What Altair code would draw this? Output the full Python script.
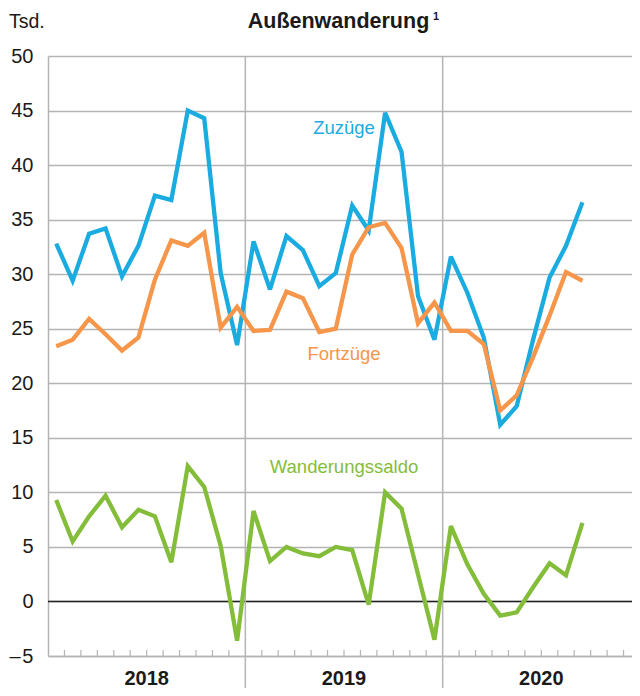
import altair as alt
import pandas as pd

# ---- data (Tsd., monthly Jan 2018 - Sep 2020) ----
years = ["2018", "2019", "2020"]
zuzuege = [32.8, 29.4, 33.7, 34.2, 29.8, 32.6, 37.2, 36.8, 45.0, 44.3, 30.1, 23.5,
           33.0, 28.6, 33.5, 32.2, 28.9, 30.1, 36.3, 34.0, 44.8, 41.2, 28.0, 24.0,
           31.6, 28.3, 24.2, 16.2, 17.9, 24.0, 29.7, 32.6, 36.6]
fortzuege = [23.4, 24.0, 25.9, 24.5, 23.0, 24.2, 29.5, 33.1, 32.6, 33.8, 25.1, 27.0,
             24.8, 24.9, 28.4, 27.8, 24.7, 25.0, 31.8, 34.3, 34.7, 32.4, 25.5, 27.4,
             24.8, 24.8, 23.6, 17.5, 18.9, 22.4, 26.2, 30.2, 29.4]
saldo = [9.3, 5.5, 7.8, 9.7, 6.8, 8.4, 7.8, 3.6, 12.4, 10.5, 5.1, -3.6,
         8.3, 3.7, 5.0, 4.4, 4.15, 5.0, 4.7, -0.3, 10.0, 8.5, 2.5, -3.5,
         6.9, 3.4, 0.7, -1.3, -1.0, 1.3, 3.5, 2.4, 7.2]
series_names = ["Zuzüge", "Fortzüge", "Wanderungssaldo"]
series_colors = ["#1aabe0", "#f5964a", "#84bd3a"]
y_ticks = [-5, 0, 5, 10, 15, 20, 25, 30, 35, 40, 45, 50]
label_pos = [(18, 43.4), (18, 22.7), (18, 12.3)]

FONT = "Liberation Sans"
GRID = "#b4b4b4"
W, H = 592, 600
n_months = 12 * len(years)

rows = []
for name, vals in zip(series_names, [zuzuege, fortzuege, saldo]):
    for i, v in enumerate(vals):
        rows.append({"serie": name, "m": i + 0.5, "wert": v})
df = pd.DataFrame(rows)

xs = alt.Scale(domain=[0, n_months], nice=False, zero=False)
ys = alt.Scale(domain=[-5, 50], nice=False, zero=False)
cs = alt.Scale(domain=series_names, range=series_colors)

# axes + grid carrier
grid = alt.Chart(pd.DataFrame({"y": y_ticks})).mark_rule(opacity=0).encode(
    y=alt.Y("y:Q", scale=ys, axis=alt.Axis(
        values=y_ticks, grid=True, gridColor=GRID, gridWidth=1.5,
        domain=True, domainColor=GRID, domainWidth=1.5, ticks=False,
        labelFont=FONT, labelFontSize=20, labelColor="#1a1a1a", labelPadding=15,
        labelExpr="datum.value < 0 ? '–\u200a' + abs(datum.value) : datum.label",
        title=None)),
    x=alt.value(0), x2=alt.value(W),
)
xaxis = alt.Chart(pd.DataFrame({"m": [0]})).mark_point(opacity=0).encode(
    x=alt.X("m:Q", scale=xs, axis=alt.Axis(
        values=[0], grid=False, domain=True, domainColor=GRID, domainWidth=1.5,
        ticks=False, labels=False, title=None)),
    y=alt.value(H),
)

zero = alt.Chart(pd.DataFrame({"y": [0]})).mark_rule(color="#222222", strokeWidth=1.5).encode(
    y=alt.Y("y:Q", scale=ys), x=alt.value(0), x2=alt.value(W))

year_bounds = [12 * k for k in range(1, len(years))]
year_lines = alt.Chart(pd.DataFrame({"b": year_bounds})).mark_rule(
    color=GRID, strokeWidth=1.5).encode(
    x=alt.X("b:Q", scale=xs), y=alt.value(0), y2=alt.value(H + 32))

month_bounds = [k for k in range(1, n_months) if k % 12 != 0]
month_ticks = alt.Chart(pd.DataFrame({"b": month_bounds})).mark_rule(
    color=GRID, strokeWidth=1.2).encode(
    x=alt.X("b:Q", scale=xs), y=alt.value(H), y2=alt.value(H - 6))

year_text = alt.Chart(pd.DataFrame({"jahr": years, "c": [12 * k + 6 for k in range(len(years))]})).mark_text(
    font=FONT, fontSize=20, fontWeight="bold", color="#1a1a1a", baseline="alphabetic").encode(
    x=alt.X("c:Q", scale=xs), y=alt.value(H + 29), text="jahr:N")

lines = alt.Chart(df).mark_line(strokeWidth=4.3, strokeJoin="miter", strokeMiterLimit=3).encode(
    x=alt.X("m:Q", scale=xs),
    y=alt.Y("wert:Q", scale=ys),
    color=alt.Color("serie:N", scale=cs, legend=None),
    detail="serie:N",
)

lab_df = pd.DataFrame({"serie": series_names,
                       "m": [p[0] for p in label_pos],
                       "wert": [p[1] for p in label_pos]})
labels = alt.Chart(lab_df).mark_text(font=FONT, fontSize=18.5, baseline="middle").encode(
    x=alt.X("m:Q", scale=xs), y=alt.Y("wert:Q", scale=ys),
    text="serie:N", color=alt.Color("serie:N", scale=cs, legend=None))

title = alt.Chart(pd.DataFrame({"t": ["Außenwanderung"]})).mark_text(
    font=FONT, fontSize=21.5, fontWeight="bold", color="#1a1a1a", baseline="alphabetic").encode(
    x=alt.value(290.5), y=alt.value(-28), text="t:N")
sup = alt.Chart(pd.DataFrame({"t": ["1"]})).mark_text(
    font=FONT, fontSize=11, fontWeight="bold", color="#1a1a1a", baseline="alphabetic", align="left").encode(
    x=alt.value(385), y=alt.value(-36), text="t:N")
tsd = alt.Chart(pd.DataFrame({"t": ["Tsd."]})).mark_text(
    font=FONT, fontSize=19.5, color="#1a1a1a", baseline="alphabetic", align="left").encode(
    x=alt.value(-39), y=alt.value(-28), text="t:N")

chart = alt.layer(grid, xaxis, zero, year_lines, month_ticks, lines, labels,
                  year_text, title, sup, tsd).properties(
    width=W, height=H,
    autosize=alt.AutoSizeParams(type="none"),
    padding={"left": 40, "top": 48, "right": -8, "bottom": 32},
).configure_view(stroke=None)

chart.save("out.html", embed_options={"renderer": "svg", "actions": False})
